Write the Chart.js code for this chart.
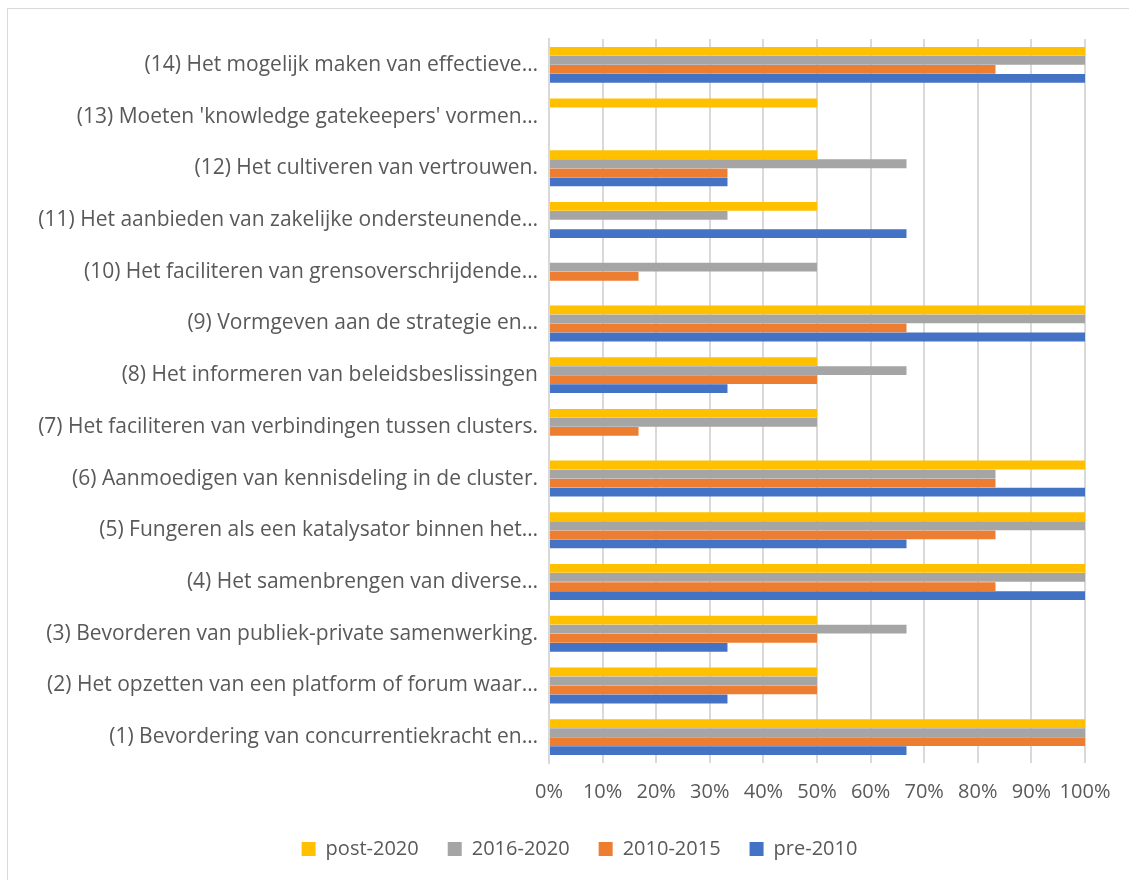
<!DOCTYPE html>
<html>
<head>
<meta charset="utf-8">
<script src="https://cdn.jsdelivr.net/npm/chart.js@4"></script>
<style>
    html, body { margin: 0; padding: 0; background: #fff; }
    #frame {
        position: absolute; left: 7px; top: 8px; width: 1130px; height: 880px;
        border: 1px solid #d9d9d9; box-sizing: border-box;
    }
    #wrap { position: absolute; left: 0; top: 0; width: 1129px; height: 880px; }
</style>
</head>
<body>
<div id="frame"></div>
<div id="wrap"><canvas id="barChart"></canvas></div>
<script>
// Categories, top to bottom
const categories = [
    '(14) Het mogelijk maken van effectieve…',
    "(13) Moeten 'knowledge gatekeepers' vormen…",
    '(12) Het cultiveren van vertrouwen.',
    '(11) Het aanbieden van zakelijke ondersteunende…',
    '(10) Het faciliteren van grensoverschrijdende…',
    '(9) Vormgeven aan de strategie en…',
    '(8) Het informeren van beleidsbeslissingen',
    '(7) Het faciliteren van verbindingen tussen clusters.',
    '(6) Aanmoedigen van kennisdeling in de cluster.',
    '(5) Fungeren als een katalysator binnen het…',
    '(4) Het samenbrengen van diverse…',
    '(3) Bevorderen van publiek-private samenwerking.',
    '(2) Het opzetten van een platform of forum waar…',
    '(1) Bevordering van concurrentiekracht en…'
];

// Series values (%)
const post2020 = [100, 50, 50, 50, 0, 100, 50, 50, 100, 100, 100, 50, 50, 100];
const y2016_2020 = [100, 0, 66.7, 33.3, 50, 100, 66.7, 50, 83.3, 100, 100, 66.7, 50, 100];
const y2010_2015 = [83.3, 0, 33.3, 0, 16.7, 66.7, 50, 16.7, 83.3, 83.3, 83.3, 50, 50, 100];
const pre2010 = [100, 0, 33.3, 66.7, 0, 100, 33.3, 0, 100, 66.7, 100, 33.3, 33.3, 66.7];

const xTicks = [0, 10, 20, 30, 40, 50, 60, 70, 80, 90, 100];

const FONT = '"Open Sans", Lato, sans-serif';
const TEXT = '#595959';

function series(label, data, color) {
    return {
        label: label,
        data: data,
        backgroundColor: color,
        borderWidth: 0,
        barPercentage: 0.97,
        categoryPercentage: 0.7
    };
}

// the legend sits a bit right of centre and slightly higher in the original
const legendShift = {
    id: 'legendShift',
    afterLayout(chart) {
        if (chart.legend) {
            chart.legend.left += 74;
            chart.legend.top -= 11;
        }
    }
};

const ctx = document.getElementById('barChart').getContext('2d');

new Chart(ctx, {
    type: 'bar',
    data: {
        labels: categories,
        datasets: [
            series('post-2020', post2020, '#FFC000'),
            series('2016-2020', y2016_2020, '#A5A5A5'),
            series('2010-2015', y2010_2015, '#ED7D31'),
            series('pre-2010', pre2010, '#4472C4')
        ]
    },
    plugins: [legendShift],
    options: {
        indexAxis: 'y',
        responsive: true,
        maintainAspectRatio: false,
        animation: false,
        layout: {
            padding: { top: 39, right: 44, bottom: 0, left: 0 }
        },
        plugins: {
            legend: {
                position: 'bottom',
                labels: {
                    color: TEXT,
                    font: { family: FONT, size: 20 },
                    boxWidth: 14,
                    boxHeight: 14,
                    padding: 29
                }
            },
            tooltip: { enabled: false }
        },
        scales: {
            x: {
                min: 0,
                max: 100,
                afterBuildTicks: function(scale) {
                    scale.ticks = xTicks.map(v => ({ value: v }));
                },
                grid: {
                    color: '#d9d9d9',
                    lineWidth: 2,
                    drawTicks: false
                },
                border: { display: false },
                ticks: {
                    color: TEXT,
                    font: { family: FONT, size: 20 },
                    padding: 17,
                    maxRotation: 0,
                    autoSkip: false,
                    callback: function(value) {
                        return value + '%';
                    }
                }
            },
            y: {
                afterFit: function(scale) {
                    scale.width = 549;
                },
                grid: { display: false },
                border: { display: true, color: '#d9d9d9', width: 2 },
                ticks: {
                    color: TEXT,
                    font: { family: FONT, size: 21 },
                    padding: 3,
                    autoSkip: false
                }
            }
        }
    }
});
</script>
</body>
</html>
